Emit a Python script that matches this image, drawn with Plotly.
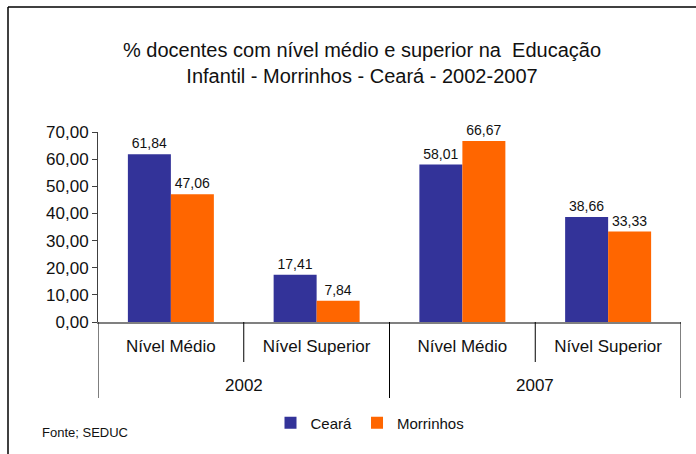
import plotly.graph_objects as go

years = ["2002", "2007"]
levels = ["Nível Médio", "Nível Superior", "Nível Médio", "Nível Superior"]
categories = ["2002 Nível Médio", "2002 Nível Superior", "2007 Nível Médio", "2007 Nível Superior"]
ceara = [61.84, 17.41, 58.01, 38.66]
morrinhos = [47.06, 7.84, 66.67, 33.33]
y_ticks = [0, 10, 20, 30, 40, 50, 60, 70]

FONT = "Liberation Sans, Arial, sans-serif"
TXT = "#111111"

# plot area in pixels: x 98..681, y 132..322
PX_L, PX_R, PX_T, PX_B = 98, 681, 132, 322
H = PX_B - PX_T


def py(p):
    return (PX_B - p) / H


def px_(p):
    return (p - PX_L) / (PX_R - PX_L)


fig = go.Figure()
for name, vals, color in [("Ceará", ceara, "#333399"), ("Morrinhos", morrinhos, "#FF6600")]:
    fig.add_trace(go.Bar(
        x=categories, y=vals, name=name,
        marker=dict(color=color, line=dict(width=0)),
        texttemplate="%{y:.2f}", textposition="outside",
        textfont=dict(size=14, color=TXT, family=FONT),
        cliponaxis=False,
    ))

shapes = [
    dict(type="line", xref="paper", yref="paper",
         x0=px_(8), x1=px_(700), y0=py(7), y1=py(7),
         line=dict(color="black", width=1.5)),
    dict(type="line", xref="paper", yref="paper",
         x0=px_(8), x1=px_(8), y0=py(7), y1=py(460),
         line=dict(color="black", width=1.5)),
]
# dividers between levels and between years
for xb in [0.5, 2.5]:
    shapes.append(dict(type="line", xref="x", yref="paper", x0=xb, x1=xb,
                       y0=0, y1=py(362), line=dict(color="black", width=1)))
for xb in [-0.5, 1.5, 3.5]:
    shapes.append(dict(type="line", xref="x", yref="paper", x0=xb, x1=xb,
                       y0=0, y1=py(398), line=dict(color="black", width=1)))

annotations = [
    dict(text=yr, xref="x", yref="paper", x=xc, y=py(385),
         xanchor="center", yanchor="middle", showarrow=False,
         font=dict(size=17, family=FONT, color=TXT))
    for yr, xc in zip(years, [0.5, 2.5])
]
annotations.append(dict(text="Fonte; SEDUC", xref="paper", yref="paper",
                        x=px_(40), y=py(432), xanchor="left", yanchor="middle",
                        showarrow=False, font=dict(size=13, family=FONT, color=TXT)))

fig.update_layout(
    width=696, height=454,
    margin=dict(l=PX_L, r=696 - PX_R, t=PX_T, b=454 - PX_B, autoexpand=False),
    paper_bgcolor="white", plot_bgcolor="white",
    separators=",.",
    font=dict(family=FONT, size=15, color=TXT),
    barmode="group", bargap=0.41, bargroupgap=0,
    title=dict(
        text="% docentes com nível médio e superior na  Educação<br>Infantil - Morrinhos - Ceará - 2002-2007",
        x=362 / 696, xref="container", xanchor="center",
        y=1 - 57 / 454, yref="container", yanchor="middle",
        font=dict(size=20, color=TXT, family=FONT),
    ),
    legend=dict(
        orientation="h", x=px_(370), xref="paper", xanchor="center",
        y=py(423), yanchor="middle",
        font=dict(size=15, family=FONT, color=TXT),
        traceorder="normal", itemwidth=30,
    ),
    shapes=shapes,
    annotations=annotations,
)

fig.update_xaxes(
    type="category", tickvals=categories, ticktext=levels,
    range=[-0.5, 3.5], automargin=False,
    showline=True, linecolor="#808080", linewidth=2,
    ticks="", ticklabelstandoff=8,
    tickfont=dict(size=17, family=FONT, color=TXT),
    showgrid=False,
)
fig.update_yaxes(
    range=[0, 70], tickvals=y_ticks, tickformat=".2f", automargin=False,
    showline=True, linecolor="#404040", linewidth=1,
    ticks="outside", ticklen=5, tickcolor="#404040",
    showgrid=False, zeroline=False,
    tickfont=dict(size=17, family=FONT, color=TXT),
)

fig.write_html("out.html", config={"displayModeBar": False},
               post_script="document.body.style.margin='0';")
